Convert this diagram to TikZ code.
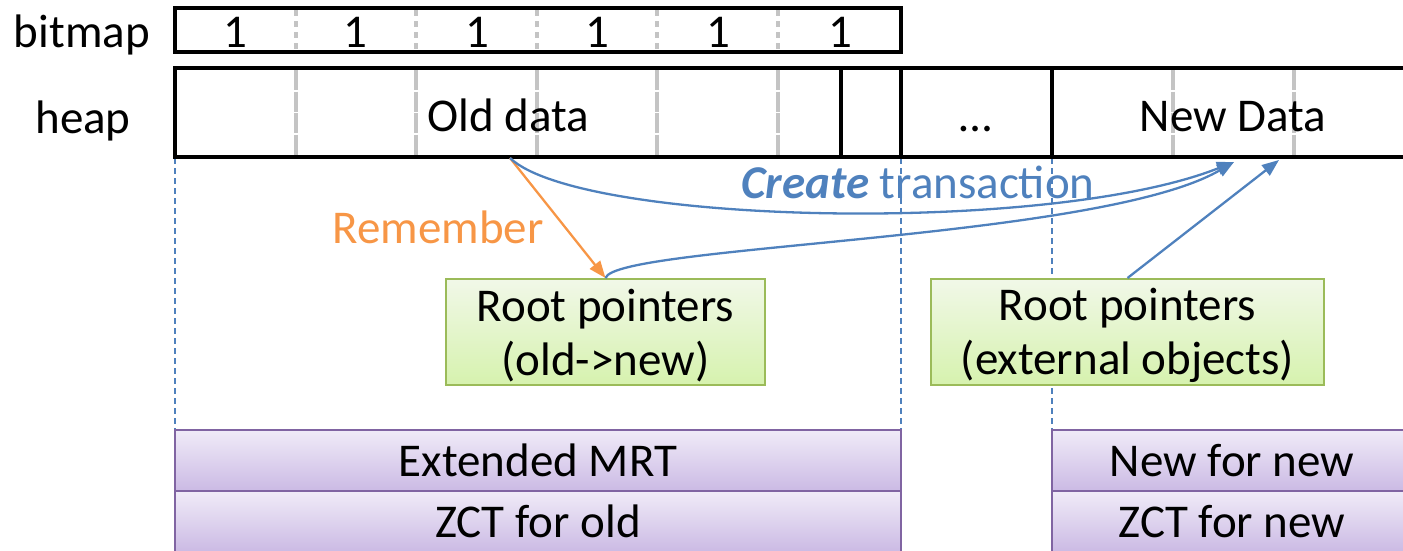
\documentclass[tikz,border=0pt]{standalone}
\usepackage{fontspec}
\setmainfont{Carlito}
\usetikzlibrary{arrows.meta}
\definecolor{obl}{HTML}{4F81BD}
\definecolor{oor}{HTML}{F79646}
\definecolor{grnb}{HTML}{9BBB59}
\definecolor{grnt}{HTML}{F1F8E8}
\definecolor{grnd}{HTML}{D6F2AE}
\definecolor{purb}{HTML}{8064A2}
\definecolor{purt}{HTML}{F0EBF8}
\definecolor{purd}{HTML}{CBBAE4}
\definecolor{divg}{HTML}{C4C4C4}
\tikzset{
  blk/.style={line width=4.5pt, black},
  divline/.style={line width=4pt, divg, dash pattern=on 6pt off 5pt},
  heapdiv/.style={line width=3.5pt, divg, dash pattern=on 20pt off 1.5pt},
  guide/.style={obl, line width=1.3pt, dash pattern=on 6pt off 4pt},
  lbl/.style={anchor=base, inner sep=0pt},
  rootbox/.style={draw=grnb, line width=2pt, top color=grnt, bottom color=grnd, align=center, inner sep=0pt, minimum height=106pt},
  tblbox/.style={draw=purb, line width=2pt, top color=purt, bottom color=purd, inner sep=0pt, minimum height=61pt},
  bluearr/.style={obl, line width=2.3pt, -{Triangle[length=17pt,width=13pt]}},
  orarr/.style={oor, line width=2.3pt, -{Triangle[length=17pt,width=13pt]}}
}
\begin{document}
\begin{tikzpicture}[x=1pt,y=-1pt, font=\fontsize{47}{54}\selectfont]
\useasboundingbox (0,0) rectangle (1403,550);
\clip (0,0) rectangle (1403,550);
% guides
\draw[guide] (175,158) -- (175,430);
\draw[guide] (901,158) -- (901,430);
\draw[guide] (1052,158) -- (1052,430);
% bitmap
\node[lbl, anchor=base east] (bml) at (150,47) {bitmap};
\foreach \x in {296,416,537,657,778} \draw[divline] (\x,10) -- (\x,50);
\draw[blk] (175,8) rectangle (901,52);
\foreach \x/\n in {235/1,355/2,477/3,597/4,718/5,840/6} \node[lbl] (b\n) at (\x,47) {1};
% heap
\node[lbl] (hl) at (83,133) {heap};
\foreach \x in {296,416,537,657,778,1173,1294} \draw[heapdiv] (\x,70) -- (\x,155);
\draw[blk] (1410,68) -- (175,68) -- (175,157) -- (1410,157);
\foreach \x in {841,901,1052} \draw[blk] (\x,68) -- (\x,157);
\node[lbl] (old) at (508,131) {Old data};
\node[lbl] (dots) at (976,131) {\ldots};
\node[lbl] (new) at (1233,131) {New Data};
% tables
\node[tblbox, minimum width=726pt] (emrt) at (538,460.5) {Extended MRT};
\node[tblbox, minimum width=726pt] (zold) at (538,521.5) {ZCT for old};
\node[tblbox, minimum width=360pt] (nfn) at (1232,460.5) {New for new};
\node[tblbox, minimum width=360pt] (znew) at (1232,521.5) {ZCT for new};
% root boxes
\node[rootbox, minimum width=319pt] (g1) at (605.5,332) {\rule{0pt}{40pt}Root pointers\\(old->new)};
\node[rootbox, minimum width=393pt] (g2) at (1127.5,332) {\rule{0pt}{40pt}Root pointers\\(external objects)};
% arrows
\coordinate (od) at (510,158);
\coordinate (t1) at (1234,162);
\coordinate (t2) at (1279,160);
\draw[orarr] (od) -- (g1.north);
\draw[bluearr] (od) .. controls (580,225) and (1050,235) .. (t1);
\draw[bluearr] (g1.north) .. controls (615,245) and (1100,240) .. (t1);
\draw[bluearr] (g2.north) -- (t2);
\node[lbl, text=oor] (rem) at (438,243) {Remember};
\node[lbl, text=obl] (ct) at (918,198) {\textbf{\textit{Create}} transaction};
\end{tikzpicture}
\end{document}
